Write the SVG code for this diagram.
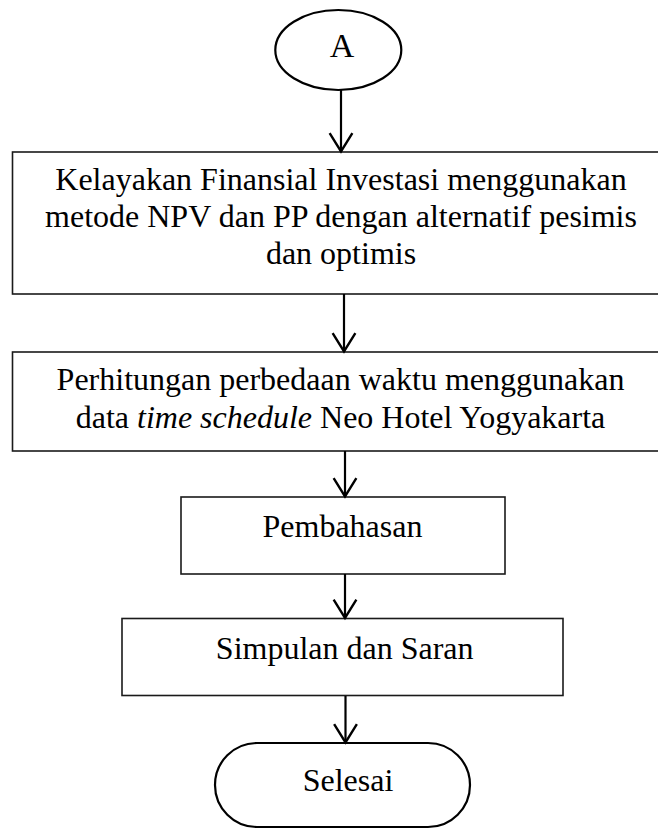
<svg xmlns="http://www.w3.org/2000/svg" width="658" height="830" viewBox="0 0 658 830">
  <style>
    .box { fill: #ffffff; stroke: #1a1a1a; stroke-width: 1.6; }
    .term { fill: #ffffff; stroke: #000000; stroke-width: 2.2; }
    .lbl { font-family: "Liberation Serif", "Times New Roman", serif; font-size: 32px; fill: #000000; text-anchor: middle; }
    .conn { stroke: #000000; stroke-width: 2.2; fill: none; }
  </style>
  <defs>
    <marker id="arr" markerUnits="userSpaceOnUse" markerWidth="24" markerHeight="26" viewBox="-20 -12 22 24" refX="0" refY="0" orient="auto" overflow="visible">
      <path d="M-17,-10.5 L0,0 L-17,10.5" fill="none" stroke="#000000" stroke-width="2.2"/>
    </marker>
  </defs>
  <rect width="658" height="830" fill="#ffffff"/>

  <g id="nodeA">
    <ellipse class="term" cx="338.3" cy="50" rx="63" ry="40"/>
    <text class="lbl" x="342" y="57" style="font-size:34px">A</text>
  </g>

  <g id="kelayakan">
    <rect class="box" x="12.5" y="152" width="660" height="142"/>
    <text class="lbl" x="341" y="190">Kelayakan Finansial Investasi menggunakan</text>
    <text class="lbl" x="341" y="227">metode NPV dan PP dengan alternatif pesimis</text>
    <text class="lbl" x="341" y="264">dan optimis</text>
  </g>

  <g id="perhitungan">
    <rect class="box" x="12.5" y="352" width="660" height="99"/>
    <text class="lbl" x="340.5" y="390">Perhitungan perbedaan waktu menggunakan</text>
    <text class="lbl" x="340.5" y="428">data <tspan font-style="italic">time schedule</tspan> Neo Hotel Yogyakarta</text>
  </g>

  <g id="pembahasan">
    <rect class="box" x="181" y="497" width="324" height="77"/>
    <text class="lbl" x="342.5" y="537">Pembahasan</text>
  </g>

  <g id="simpulan">
    <rect class="box" x="122" y="618.5" width="441" height="77"/>
    <text class="lbl" x="344.7" y="659">Simpulan dan Saran</text>
  </g>

  <g id="selesai">
    <rect class="term" x="215" y="743" width="255" height="84" rx="42" ry="42"/>
    <text class="lbl" x="348" y="791">Selesai</text>
  </g>

  <g id="connectors">
    <line class="conn" x1="341" y1="90" x2="341" y2="151.5" marker-end="url(#arr)"/>
    <line class="conn" x1="344" y1="294" x2="344" y2="351.5" marker-end="url(#arr)"/>
    <line class="conn" x1="345" y1="451" x2="345" y2="496.5" marker-end="url(#arr)"/>
    <line class="conn" x1="345" y1="574" x2="345" y2="618" marker-end="url(#arr)"/>
    <line class="conn" x1="345.5" y1="696" x2="345.5" y2="742.5" marker-end="url(#arr)"/>
  </g>
</svg>
